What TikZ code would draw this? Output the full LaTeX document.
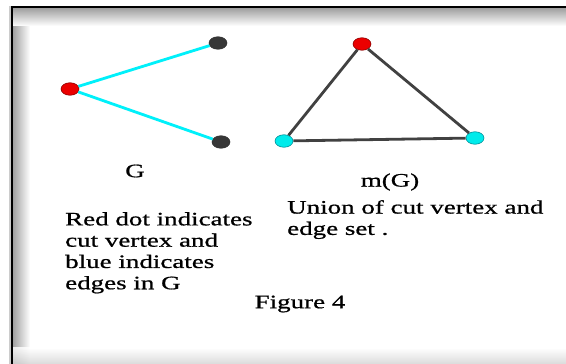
\documentclass[tikz,border=0pt]{standalone}
\usepackage{fontspec}
\setmainfont{Liberation Serif}[FakeStretch=1.42,FakeBold=0.8]
\usetikzlibrary{shapes.geometric}
\definecolor{dotred}{RGB}{235,0,0}
\definecolor{dotredb}{RGB}{140,0,0}
\definecolor{dotcyan}{RGB}{0,235,235}
\definecolor{dotcyanb}{RGB}{0,140,150}
\definecolor{dotdark}{RGB}{55,55,55}
\definecolor{edgecyan}{RGB}{0,240,250}
\definecolor{edgegray}{RGB}{65,65,65}
\tikzset{
  vtx/.style={ellipse, inner sep=0pt, minimum width=18pt, minimum height=12.5pt, line width=0.6pt},
  redv/.style={vtx, fill=dotred, draw=dotredb},
  darkv/.style={vtx, fill=dotdark, draw=black!80},
  cyanv/.style={vtx, fill=dotcyan, draw=dotcyanb},
  cyanedge/.style={draw=edgecyan, line width=2.8pt},
  grayedge/.style={draw=edgegray, line width=2.8pt},
  lbl/.style={inner sep=0pt, font=\fontsize{19}{21.3}\selectfont},
}
\begin{document}
\begin{tikzpicture}[x=1pt,y=1pt]
\useasboundingbox (0,0) rectangle (566,364);
% frame with inner shadow
\fill[white] (0,0) rectangle (566,364);
\shade[left color=gray!75, right color=white] (12.5,0) rectangle (30,356);
\shade[top color=white, bottom color=gray!35, opacity=0.8] (12.5,0) rectangle (566,16);
\shade[top color=gray!75, bottom color=white] (12.5,338) rectangle (566,356);
\fill[gray!40] (9,0) rectangle (10.5,358);
\draw[line width=2pt] (11.5,0) -- (11.5,357) -- (566,357);
% graph G
\node[redv] (g0) at (70,275) {};
\node[darkv] (g1) at (218,321) {};
\node[darkv] (g2) at (221,222) {};
\draw[cyanedge] (g0) -- (g1);
\draw[cyanedge] (g0) -- (g2);
% graph m(G)
\node[redv] (m0) at (362,320) {};
\node[cyanv] (m1) at (284,223) {};
\node[cyanv] (m2) at (475,226) {};
\draw[grayedge] (m0) -- (m1);
\draw[grayedge] (m0) -- (m2);
\draw[grayedge] (m1) -- (m2);
% labels
\node[lbl] (lg) at (135,193) {G};
\node[lbl] (lm) at (390,182) {m(G)};
\node[lbl, align=left, anchor=north west] (tu) at (287,164) {Union of cut vertex and\\edge set .};
\node[lbl, align=left, anchor=north west] (tr) at (65,152) {Red dot indicates\\cut vertex and\\blue indicates\\edges in G};
\node[lbl] (fig) at (300,60) {Figure 4};
\end{tikzpicture}
\end{document}
